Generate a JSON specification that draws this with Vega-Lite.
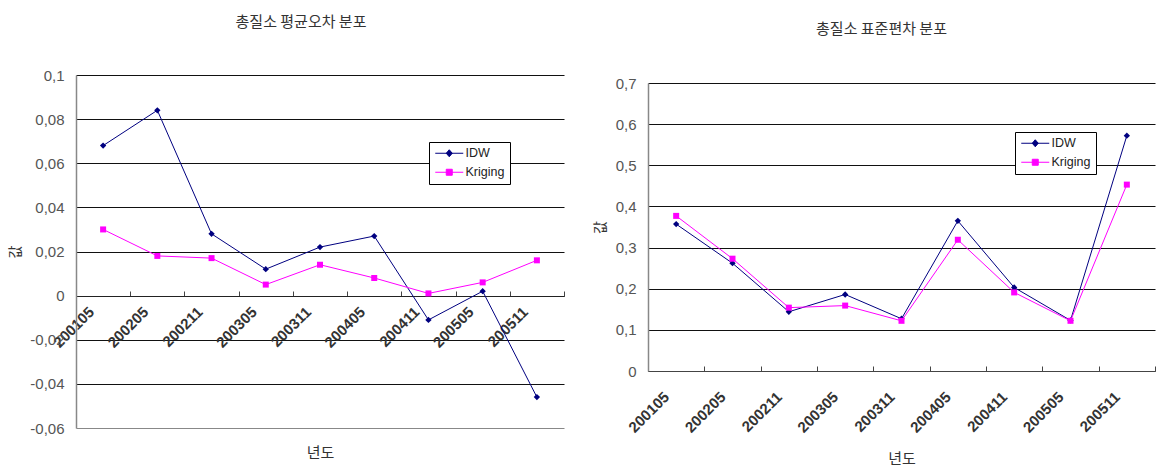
{
  "$schema": "https://vega.github.io/schema/vega-lite/v6.json",
  "background": "white",
  "padding": {"left": 8, "top": 15, "right": 0, "bottom": 0},
  "spacing": 28,
  "bounds": "full",
  "config": {"view": {"stroke": null}, "font": "Liberation Sans"},
  "resolve": {"scale": {"color": "independent", "x": "independent", "y": "independent"}, "legend": {"color": "independent"}},
  "datasets": {
    "mean": [
      {"period": "200105", "method": "IDW", "value": 0.068},
      {"period": "200205", "method": "IDW", "value": 0.084},
      {"period": "200211", "method": "IDW", "value": 0.028},
      {"period": "200305", "method": "IDW", "value": 0.012},
      {"period": "200311", "method": "IDW", "value": 0.022},
      {"period": "200405", "method": "IDW", "value": 0.027},
      {"period": "200411", "method": "IDW", "value": -0.011},
      {"period": "200505", "method": "IDW", "value": 0.002},
      {"period": "200511", "method": "IDW", "value": -0.046},
      {"period": "200105", "method": "Kriging", "value": 0.030},
      {"period": "200205", "method": "Kriging", "value": 0.018},
      {"period": "200211", "method": "Kriging", "value": 0.017},
      {"period": "200305", "method": "Kriging", "value": 0.005},
      {"period": "200311", "method": "Kriging", "value": 0.014},
      {"period": "200405", "method": "Kriging", "value": 0.008},
      {"period": "200411", "method": "Kriging", "value": 0.001},
      {"period": "200505", "method": "Kriging", "value": 0.006},
      {"period": "200511", "method": "Kriging", "value": 0.016}
    ],
    "std": [
      {"period": "200105", "method": "IDW", "value": 0.357},
      {"period": "200205", "method": "IDW", "value": 0.262},
      {"period": "200211", "method": "IDW", "value": 0.144},
      {"period": "200305", "method": "IDW", "value": 0.186},
      {"period": "200311", "method": "IDW", "value": 0.127},
      {"period": "200405", "method": "IDW", "value": 0.365},
      {"period": "200411", "method": "IDW", "value": 0.203},
      {"period": "200505", "method": "IDW", "value": 0.123},
      {"period": "200511", "method": "IDW", "value": 0.572},
      {"period": "200105", "method": "Kriging", "value": 0.377},
      {"period": "200205", "method": "Kriging", "value": 0.273},
      {"period": "200211", "method": "Kriging", "value": 0.154},
      {"period": "200305", "method": "Kriging", "value": 0.159},
      {"period": "200311", "method": "Kriging", "value": 0.122},
      {"period": "200405", "method": "Kriging", "value": 0.319},
      {"period": "200411", "method": "Kriging", "value": 0.191},
      {"period": "200505", "method": "Kriging", "value": 0.122},
      {"period": "200511", "method": "Kriging", "value": 0.453}
    ]
  },
  "hconcat": [
    {
      "width": 488,
      "height": 353,
      "data": {"name": "mean"},
      "title": {"text": "총질소 평균오차 분포", "font": "Noto Sans CJK KR", "fontSize": 15, "fontWeight": "normal", "color": "#333", "offset": 38, "dx": -19},
      "encoding": {
        "x": {
          "field": "period", "type": "ordinal", "sort": null, "bandPosition": 0.5,
          "scale": {"type": "band", "paddingInner": 0, "paddingOuter": 0},
          "axis": {
            "title": "년도", "titleFont": "Noto Sans CJK KR", "titleFontSize": 15, "titleFontWeight": "normal", "titleColor": "#333",
            "titleY": 156, "titleBaseline": "middle",
            "labelAngle": -45, "labelAlign": "right", "labelBaseline": "middle",
            "labelFont": "Liberation Sans", "labelFontSize": 15, "labelFontWeight": "bold", "labelColor": "#333",
            "labelPadding": 18, "labelOffset": -12, "offset": -132, "tickBand": "extent", "tickSize": -5, "tickColor": "#444",
            "domainColor": "#222", "grid": false
          }
        },
        "y": {
          "field": "value", "type": "quantitative",
          "scale": {"domain": [-0.06, 0.1], "nice": false, "zero": false},
          "axis": {
            "values": [-0.06, -0.04, -0.02, 0, 0.02, 0.04, 0.06, 0.08, 0.1],
            "labelExpr": "replace(datum.value + '', '.', ',')",
            "title": "값", "titleFont": "Noto Sans CJK KR", "titleFontSize": 14, "titleFontWeight": "normal", "titleColor": "#333", "titlePadding": 7,
            "labelFont": "Liberation Sans", "labelFontSize": 15, "labelColor": "#555", "labelPadding": 12,
            "ticks": false, "domainColor": "#888", "domainWidth": 1.5,
            "grid": true, "gridColor": {"condition": {"test": "datum.value < -0.059", "value": "#888"}, "value": "#111"}, "gridWidth": 1.2
          }
        },
        "color": {
          "field": "method", "type": "nominal",
          "scale": {"domain": ["IDW", "Kriging"], "range": ["#000080", "#FF00FF"]},
          "legend": {
            "orient": "none", "legendX": 353, "legendY": 67, "title": null,
            "strokeColor": "#000", "fillColor": "#fff", "padding": 5,
            "labelFont": "Liberation Sans", "labelFontSize": 12.5, "labelColor": "#222", "labelOffset": 19,
            "symbolSize": 100, "rowPadding": 6,
            "encode": {"symbols": {"update": {
              "shape": {"signal": "datum.value === 'IDW' ? 'M-1,0L4.6,0M1.2,0L1.8,-0.7L2.4,0L1.8,0.7Z' : 'M-1,0L4.6,0M1.2,-0.6L2.4,-0.6L2.4,0.6L1.2,0.6Z'"},
              "fill": {"signal": "datum.value === 'IDW' ? '#000080' : '#FF00FF'"},
              "stroke": {"signal": "datum.value === 'IDW' ? '#000080' : '#FF00FF'"},
              "strokeWidth": {"value": 1}, "opacity": {"value": 1}, "fillOpacity": {"value": 1}
            }}}
          }
        }
      },
      "layer": [
        {"mark": {"type": "line", "strokeWidth": 1}},
        {"transform": [{"filter": "datum.method === 'IDW'"}], "mark": {"type": "point", "shape": "diamond", "filled": true, "opacity": 1, "size": 40}},
        {"transform": [{"filter": "datum.method === 'Kriging'"}], "mark": {"type": "point", "shape": "square", "filled": true, "opacity": 1, "size": 36}}
      ]
    },
    {
      "width": 507,
      "height": 296,
      "data": {"name": "std"},
      "title": {"text": "총질소 표준편차 분포", "font": "Noto Sans CJK KR", "fontSize": 15, "fontWeight": "normal", "color": "#333", "offset": 38, "dx": -20},
      "encoding": {
        "x": {
          "field": "period", "type": "ordinal", "sort": null, "bandPosition": 0.5,
          "scale": {"type": "band", "paddingInner": 0, "paddingOuter": 0},
          "axis": {
            "title": "년도", "titleFont": "Noto Sans CJK KR", "titleFontSize": 15, "titleFontWeight": "normal", "titleColor": "#333", "titlePadding": 16,
            "labelAngle": -45, "labelAlign": "right", "labelBaseline": "middle",
            "labelFont": "Liberation Sans", "labelFontSize": 15, "labelFontWeight": "bold", "labelColor": "#333",
            "labelPadding": 28, "labelOffset": -10, "tickBand": "extent", "tickSize": -5, "tickColor": "#444",
            "domainColor": "#444", "grid": false
          }
        },
        "y": {
          "field": "value", "type": "quantitative",
          "scale": {"domain": [0, 0.7], "nice": false, "range": [296, 8]},
          "axis": {
            "values": [0, 0.1, 0.2, 0.3, 0.4, 0.5, 0.6, 0.7],
            "labelExpr": "replace(datum.value + '', '.', ',')",
            "title": "값", "titleFont": "Noto Sans CJK KR", "titleFontSize": 14, "titleFontWeight": "normal", "titleColor": "#333", "titlePadding": 8,
            "labelFont": "Liberation Sans", "labelFontSize": 15, "labelColor": "#555", "labelPadding": 12,
            "ticks": false, "domainColor": "#888", "domainWidth": 1.5,
            "grid": true, "gridColor": "#111", "gridWidth": 1.2
          }
        },
        "color": {
          "field": "method", "type": "nominal",
          "scale": {"domain": ["IDW", "Kriging"], "range": ["#000080", "#FF00FF"]},
          "legend": {
            "orient": "none", "legendX": 367, "legendY": 57, "title": null,
            "strokeColor": "#000", "fillColor": "#fff", "padding": 5,
            "labelFont": "Liberation Sans", "labelFontSize": 12.5, "labelColor": "#222", "labelOffset": 19,
            "symbolSize": 100, "rowPadding": 6,
            "encode": {"symbols": {"update": {
              "shape": {"signal": "datum.value === 'IDW' ? 'M-1,0L4.6,0M1.2,0L1.8,-0.7L2.4,0L1.8,0.7Z' : 'M-1,0L4.6,0M1.2,-0.6L2.4,-0.6L2.4,0.6L1.2,0.6Z'"},
              "fill": {"signal": "datum.value === 'IDW' ? '#000080' : '#FF00FF'"},
              "stroke": {"signal": "datum.value === 'IDW' ? '#000080' : '#FF00FF'"},
              "strokeWidth": {"value": 1}, "opacity": {"value": 1}, "fillOpacity": {"value": 1}
            }}}
          }
        }
      },
      "layer": [
        {"mark": {"type": "line", "strokeWidth": 1}},
        {"transform": [{"filter": "datum.method === 'IDW'"}], "mark": {"type": "point", "shape": "diamond", "filled": true, "opacity": 1, "size": 40}},
        {"transform": [{"filter": "datum.method === 'Kriging'"}], "mark": {"type": "point", "shape": "square", "filled": true, "opacity": 1, "size": 36}}
      ]
    }
  ]
}
